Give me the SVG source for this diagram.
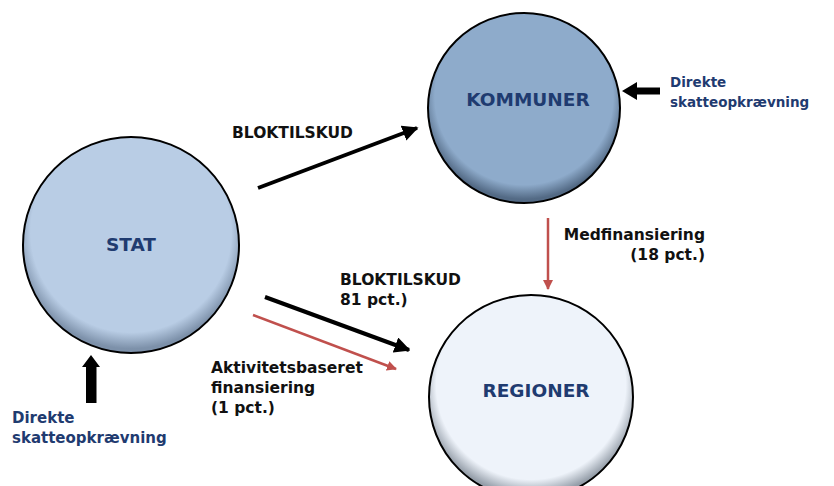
<svg xmlns="http://www.w3.org/2000/svg" width="834" height="486" viewBox="0 0 834 486">
<defs>
<radialGradient id="gStat" cx="50%" cy="44%" r="54%">
<stop offset="0.86" stop-color="#b9cde5"/><stop offset="1" stop-color="#7d91aa"/>
</radialGradient>
<radialGradient id="gKom" cx="50%" cy="44%" r="54%">
<stop offset="0.86" stop-color="#8eabcb"/><stop offset="1" stop-color="#536a85"/>
</radialGradient>
<radialGradient id="gReg" cx="50%" cy="44%" r="54%">
<stop offset="0.86" stop-color="#eef3fa"/><stop offset="1" stop-color="#959ea9"/>
</radialGradient>
<marker id="ahB" viewBox="0 0 10 10" refX="9" refY="5" markerWidth="4" markerHeight="4" orient="auto" markerUnits="strokeWidth">
<path d="M0,0 L10,5 L0,10 z" fill="#000"/>
</marker>
<marker id="ahR" viewBox="0 0 10 10" refX="9" refY="5" markerWidth="4" markerHeight="4" orient="auto" markerUnits="strokeWidth">
<path d="M0,0 L10,5 L0,10 z" fill="#c0504d"/>
</marker>
</defs>
<style>
.node{stroke:#000;stroke-width:2}
.nl{font-family:"DejaVu Sans",Verdana,sans-serif;font-weight:bold;font-size:18.5px;fill:#1f3b70;text-anchor:middle}
.lbl{font-family:"DejaVu Sans",Verdana,sans-serif;font-weight:bold;font-size:15.5px;fill:#111}
.tax{font-family:"DejaVu Sans",Verdana,sans-serif;font-weight:bold;font-size:15px;fill:#1f3b70}
.blk{stroke:#000;stroke-width:4;fill:none;marker-end:url(#ahB)}
.red{stroke:#c0504d;stroke-width:2.5;fill:none;marker-end:url(#ahR)}
</style>
<rect width="834" height="486" fill="#fff"/>
<g id="connectors">
<line class="blk" x1="258" y1="188" x2="417" y2="128"/>
<line class="blk" x1="265" y1="297" x2="409" y2="350"/>
<line class="red" x1="253" y1="315" x2="396" y2="369"/>
<line class="red" x1="548" y1="218" x2="548" y2="289"/>
<polygon points="622,91 637,82 637,87.5 660,87.5 660,94.5 637,94.5 637,100" fill="#000"/>
<polygon points="91,355 100,367 96.5,367 96.5,403 86,403 86,367 82,367" fill="#000"/>
</g>
<g id="stat">
<ellipse class="node" cx="131" cy="245" rx="108" ry="108" fill="url(#gStat)"/>
<text class="nl" x="131" y="251">STAT</text>
</g>
<g id="kommuner">
<ellipse class="node" cx="524" cy="108" rx="96" ry="95" fill="url(#gKom)"/>
<text class="nl" x="528" y="106">KOMMUNER</text>
</g>
<g id="regioner">
<ellipse class="node" cx="531" cy="397" rx="102" ry="102" fill="url(#gReg)"/>
<text class="nl" x="536" y="397">REGIONER</text>
</g>
<g id="labels">
<text class="lbl" x="232" y="138">BLOKTILSKUD</text>
<text class="lbl" x="340" y="285">BLOKTILSKUD</text>
<text class="lbl" x="340" y="305">81 pct.)</text>
<text class="lbl" x="211" y="373">Aktivitetsbaseret</text>
<text class="lbl" x="211" y="393">finansiering</text>
<text class="lbl" x="211" y="413">(1 pct.)</text>
<text class="lbl" x="705" y="240" text-anchor="end">Medfinansiering</text>
<text class="lbl" x="705" y="260" text-anchor="end">(18 pct.)</text>
<text class="tax" x="670" y="87" style="font-size:13.5px">Direkte</text>
<text class="tax" x="670" y="107" style="font-size:13.5px">skatteopkrævning</text>
<text class="tax" x="12" y="423">Direkte</text>
<text class="tax" x="12" y="443">skatteopkrævning</text>
</g>
</svg>
